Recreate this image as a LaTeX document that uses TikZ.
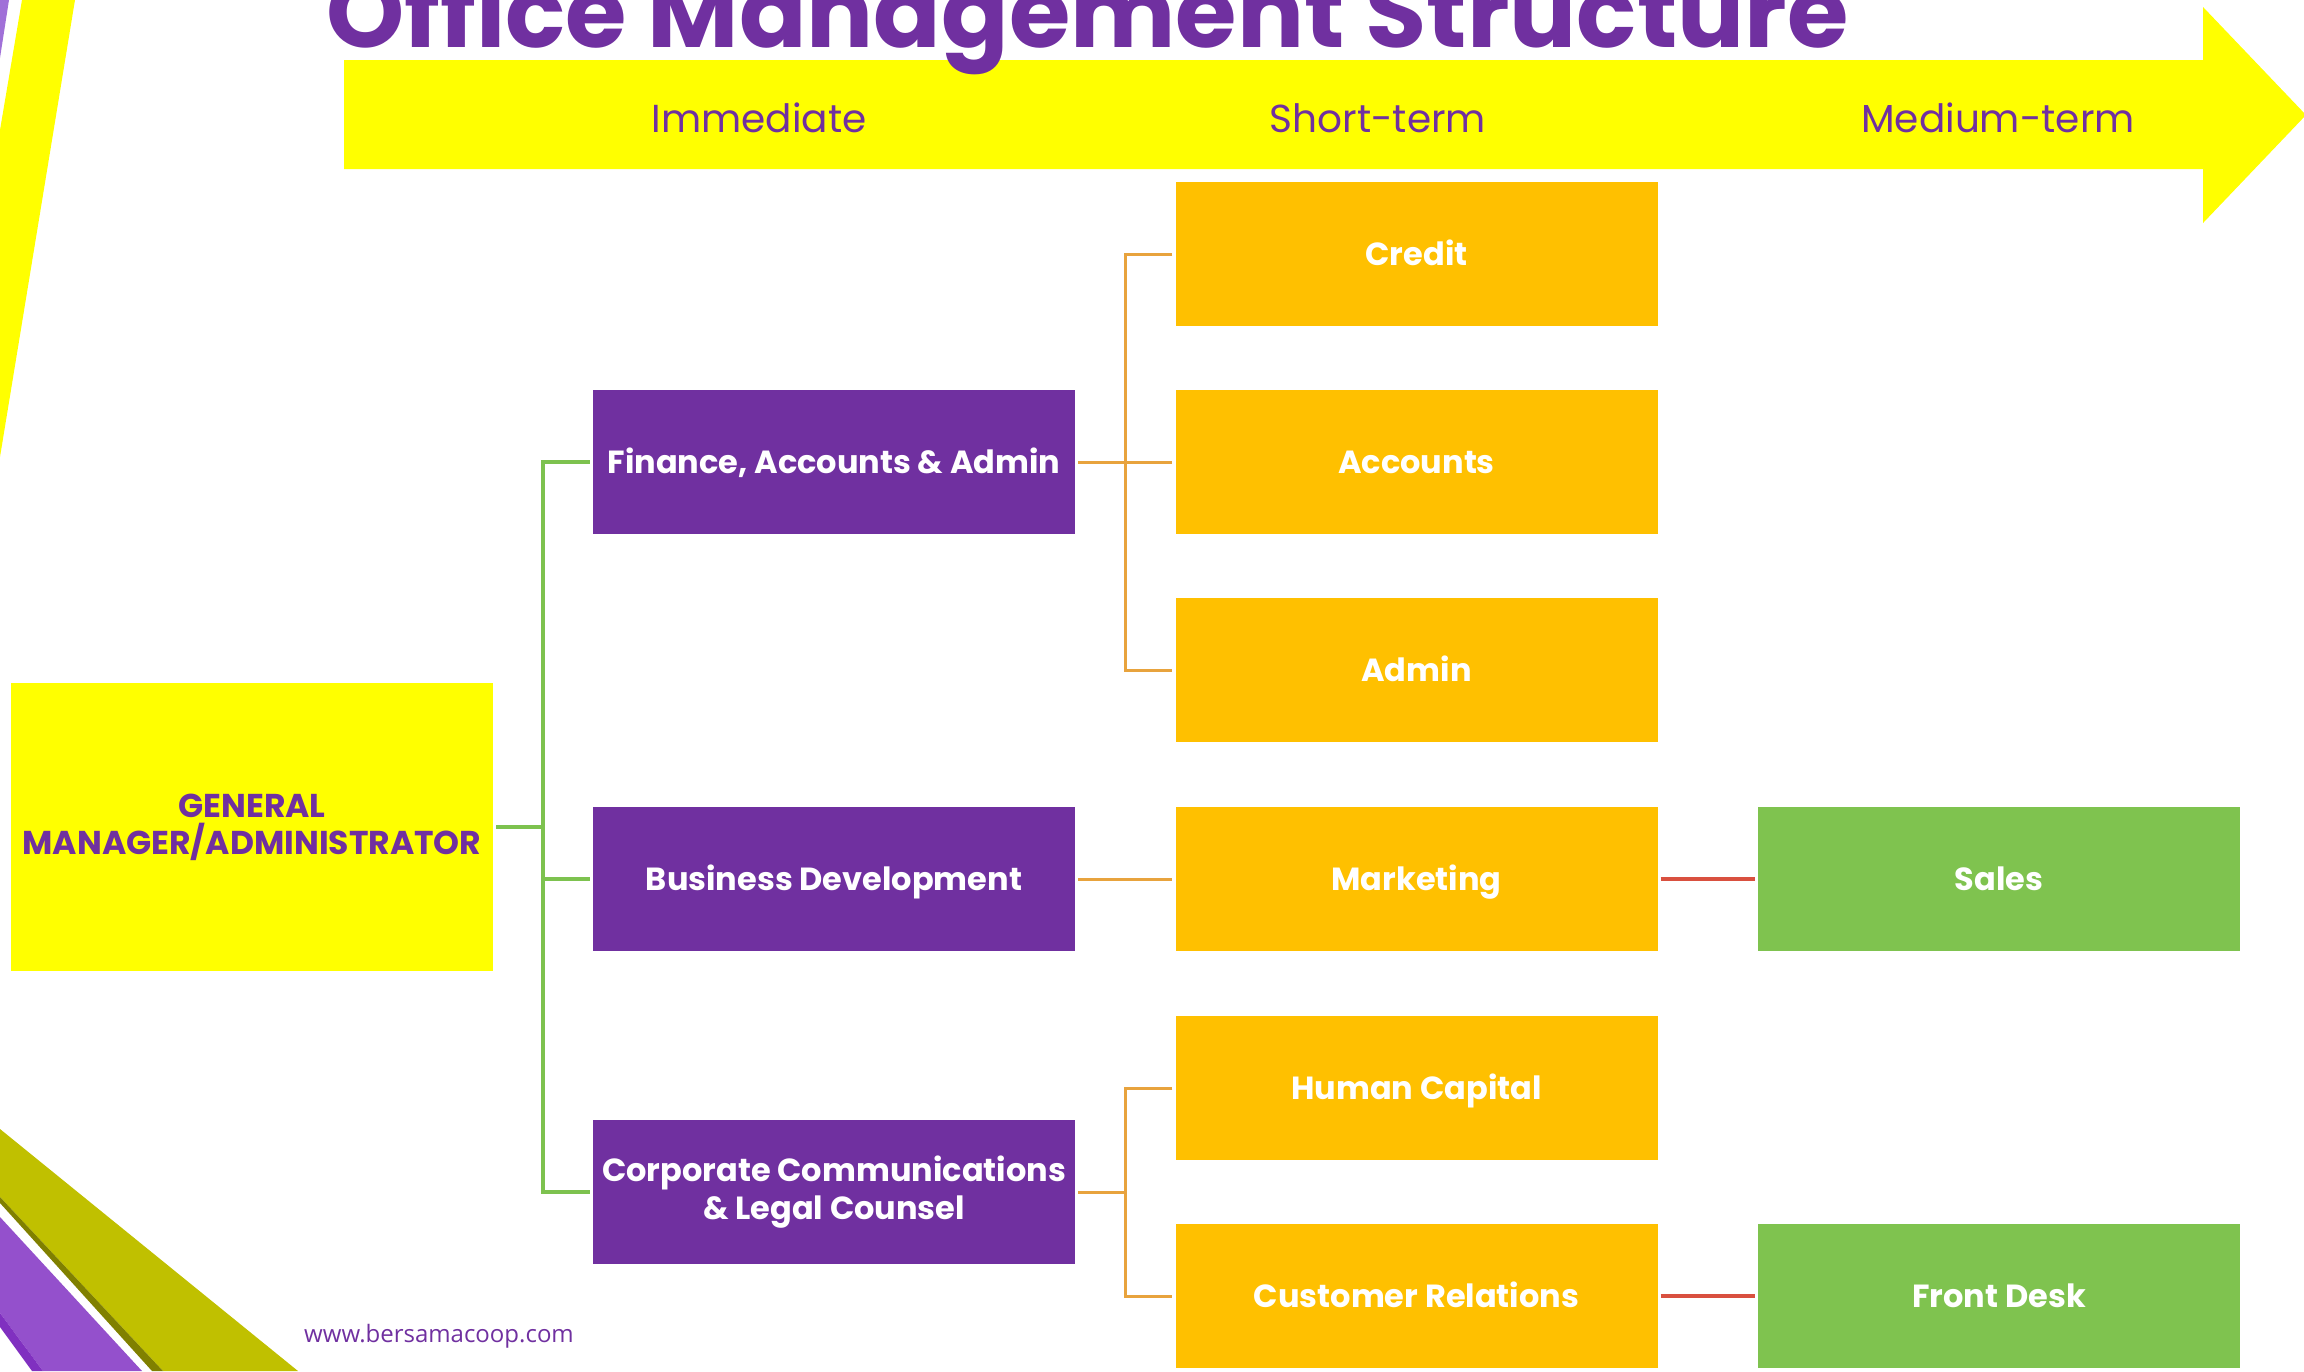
\documentclass[tikz,border=0pt]{standalone}
\usepackage{fontspec}
\setmainfont{Poppins}
\newfontfamily\footfont{Open Sans}
\definecolor{cpurple}{HTML}{7030A0}
\definecolor{cyellow}{HTML}{FFFF00}
\definecolor{corange}{HTML}{FFC000}
\definecolor{cgreen}{HTML}{7FC34F}
\definecolor{lgreen}{HTML}{7DC24F}
\definecolor{lorange}{HTML}{E8A33D}
\definecolor{lred}{HTML}{D9503F}
\definecolor{oliveA}{HTML}{C0C000}
\definecolor{oliveB}{HTML}{808000}
\definecolor{purpA}{HTML}{9450CC}
\definecolor{purpB}{HTML}{8030C0}
\definecolor{purpC}{HTML}{A070D8}
\tikzset{
  orgbox/.style={rectangle, inner sep=0pt, minimum width=482pt, minimum height=144pt,
    align=center, text=white, font=\bfseries\fontsize{32}{38}\selectfont,
    text height=23pt, text depth=0pt},
  twoline/.style={text height={}, text depth={}},
  purplebox/.style={orgbox, fill=cpurple},
  orangebox/.style={orgbox, fill=corange},
  greenbox/.style={orgbox, fill=cgreen},
  gline/.style={draw=lgreen, line width=3.5pt},
  oline/.style={draw=lorange, line width=3pt},
  rline/.style={draw=lred, line width=3.5pt},
  phase/.style={anchor=base, text=cpurple, inner sep=0pt, font=\fontsize{39}{45}\selectfont},
}
\begin{document}
\begin{tikzpicture}[x=1pt, y=-1pt]
\useasboundingbox (0,0) rectangle (2304,1371);
\clip (0,0) rectangle (2304,1371);
% decorations top-left
\fill[purpC] (0,0) -- (9,0) -- (0,58) -- cycle;
\fill[cyellow] (22,0) -- (75,0) -- (0,457) -- (0,130) -- cycle;
% decorations bottom-left
\fill[oliveA] (0,1129) -- (298,1371) -- (163,1371) -- (0,1197) -- cycle;
\fill[oliveB] (0,1197) -- (163,1371) -- (152,1371) -- (0,1203) -- cycle;
\fill[purpA] (0,1217) -- (142,1371) -- (43,1371) -- (0,1313) -- cycle;
\fill[purpB] (0,1313) -- (43,1371) -- (32,1371) -- (0,1327) -- cycle;
% timeline arrow
\fill[cyellow] (344,60) -- (2203,60) -- (2203,7) -- (2306,115) -- (2203,223) -- (2203,169) -- (344,169) -- cycle;
% title
\node[anchor=base west, inner sep=0pt, text=cpurple, font=\bfseries\fontsize{99.5}{106}\selectfont] (title) at (326,47) {Office Management Structure};
\node[phase] (ph1) at (759,132) {Immediate};
\node[phase] (ph2) at (1378,132) {Short-term};
\node[phase] (ph3) at (1998,132) {Medium-term};
% boxes
\node[orgbox, twoline, fill=cyellow, text=cpurple, minimum height=288pt, font=\bfseries\fontsize{33}{37}\selectfont] (gm) at (252,827) {GENERAL\\MANAGER/ADMINISTRATOR};
\node[purplebox] (fin) at (834,462) {Finance, Accounts \& Admin};
\node[purplebox] (bd) at (834,879) {Business Development};
\node[purplebox, twoline] (corp) at (834,1192) {Corporate Communications\\\& Legal Counsel};
\node[orangebox] (cred) at (1416.5,254) {Credit};
\node[orangebox] (acc) at (1416.5,462) {Accounts};
\node[orangebox] (adm) at (1416.5,670) {Admin};
\node[orangebox] (mkt) at (1416.5,879) {Marketing};
\node[orangebox] (hc) at (1416.5,1088) {Human Capital};
\node[orangebox] (cr) at (1416.5,1296) {Customer Relations};
\node[greenbox] (sales) at (1999,879) {Sales};
\node[greenbox] (fd) at (1999,1296) {Front Desk};
% connectors
\coordinate (t1) at (543,827);
\coordinate (o1) at (1125,462);
\coordinate (o2) at (1125,1192);
\draw[gline] ([xshift=3pt]gm.east) -- (t1);
\draw[gline] ([xshift=-3pt]fin.west) -| (t1) |- ([xshift=-3pt]corp.west);
\draw[gline] (t1 |- bd.west) -- ([xshift=-3pt]bd.west);
\draw[oline] ([xshift=3pt]fin.east) -- ([xshift=-3pt]acc.west);
\draw[oline] ([xshift=-3pt]cred.west) -| (o1) |- ([xshift=-3pt]adm.west);
\draw[oline] ([xshift=3pt]bd.east) -- ([xshift=-3pt]mkt.west);
\draw[oline] ([xshift=3pt]corp.east) -- (o2);
\draw[oline] ([xshift=-3pt]hc.west) -| (o2) |- ([xshift=-3pt]cr.west);
\draw[rline] ([xshift=3pt]mkt.east) -- ([xshift=-3pt]sales.west);
\draw[rline] ([xshift=3pt]cr.east) -- ([xshift=-3pt]fd.west);
% footer
\node[anchor=base west, inner sep=0pt, text=cpurple, font=\footfont\fontsize{24}{28}\selectfont] (foot) at (304,1342) {www.bersamacoop.com};
\end{tikzpicture}
\end{document}
